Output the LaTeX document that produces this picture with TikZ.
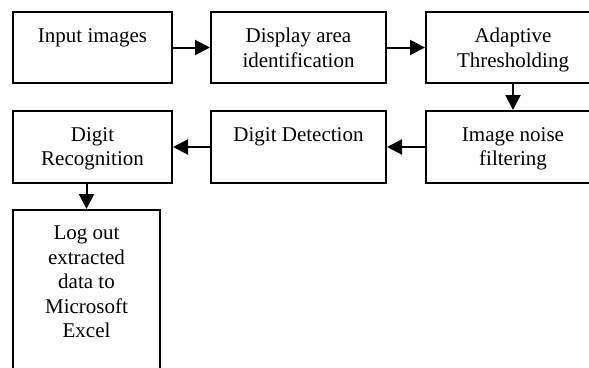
\documentclass[tikz,border=0pt]{standalone}
\usepackage{fontspec}
\setmainfont{Liberation Serif}
\usetikzlibrary{arrows.meta}

\begin{document}
\begin{tikzpicture}[x=1pt,y=-1pt,stage/.style n args={3}{draw,line width=2pt,minimum width=#1pt,minimum height=#2pt,inner sep=0pt,label={[anchor=north,align=center,inner sep=0pt,yshift=-17pt,font=\fontsize{21}{24.5}\selectfont]north:#3}},flow/.style={line width=2pt,-{Triangle[length=15pt,width=15pt]}}]
\useasboundingbox (0,0) rectangle (589,367);
\clip (0,0) rectangle (589,367);
\node[stage={159}{71}{Input images}] (input) at (92.5,47.5) {};
\node[stage={175}{71}{Display area\\identification}] (display) at (298.5,47.5) {};
\node[stage={174}{71}{Adaptive\\Thresholding}] (thresh) at (513,47.5) {};
\node[stage={174}{72}{Image noise\\filtering}] (noise) at (513,147) {};
\node[stage={175}{72}{Digit Detection}] (detect) at (298.5,147) {};
\node[stage={159}{72}{Digit\\Recognition}] (recog) at (92.5,147) {};
\node[stage={147}{170}{Log out\\extracted\\data to\\Microsoft\\Excel}] (log) at (86.5,295) {};
\foreach \a/\b in %
{input/display,display/thresh,thresh/noise,noise/detect,detect/recog} {
   \draw[flow] (\a) -- (\b);
}
\draw[flow] (recog.south -| log.north) -- (log.north);
\end{tikzpicture}
\end{document}
